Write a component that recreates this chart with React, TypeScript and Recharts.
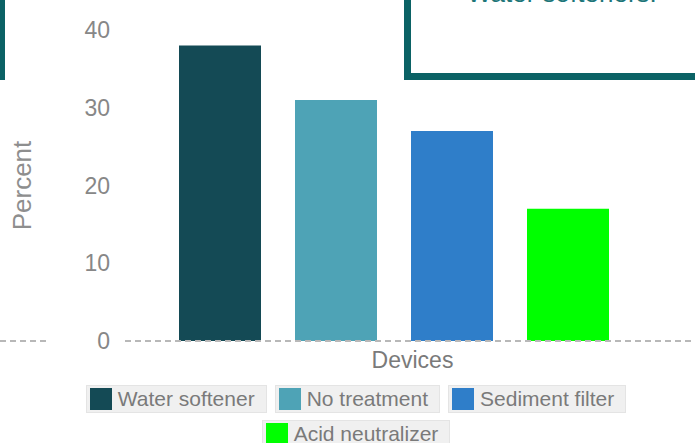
import React from 'react';
import { BarChart, Bar, XAxis, YAxis, Legend } from 'recharts';

const category = 'Devices';
const seriesKeys = ['waterSoftener', 'noTreatment', 'sedimentFilter', 'acidNeutralizer'];
const seriesNames = ['Water softener', 'No treatment', 'Sediment filter', 'Acid neutralizer'];
const seriesValues = [38, 31, 27, 17];
const seriesColors = ['#144a55', '#4ea3b6', '#2f7ec9', '#00ff00'];
const yTicks = [0, 10, 20, 30, 40];

const data = [
    seriesKeys.reduce<Record<string, string | number>>(
        (row, key, i) => {
            row[key] = seriesValues[i];
            return row;
        },
        { name: category }
    ),
];

const FONT = '"Liberation Sans", Arial, Helvetica, sans-serif';

// legend keeps the series order (recharts would sort it by name)
const LegendBoxes = () => (
    <div
        style={{
            marginLeft: 76,
            width: 560,
            display: 'flex',
            flexWrap: 'wrap',
            justifyContent: 'center',
            rowGap: 7,
            columnGap: 8,
            fontFamily: FONT,
        }}
    >
        {seriesNames.map((name, i) => (
            <div
                key={name}
                style={{
                    display: 'flex',
                    alignItems: 'center',
                    background: '#f0f0f0',
                    border: '1px solid #e4e4e4',
                    padding: '2px 11px 2px 3px',
                    height: 22,
                }}
            >
                <span style={{ width: 22, height: 22, background: seriesColors[i], marginRight: 6, display: 'inline-block' }} />
                <span style={{ fontSize: 21, lineHeight: '22px', color: '#7a7a7a' }}>{name}</span>
            </div>
        ))}
    </div>
);

const App: React.FC = () => {
    return (
        <div style={{ position: 'fixed', left: 0, top: 0, width: 695, height: 443, overflow: 'hidden', background: '#fff', fontFamily: FONT }}>
            <div style={{ position: 'absolute', left: 0, top: 0 }}>
                <BarChart
                    width={700}
                    height={450}
                    data={data}
                    margin={{ top: 30, right: 0, bottom: 2, left: 0 }}
                    barCategoryGap={0}
                    barGap={34}
                >
                    <XAxis
                        dataKey="name"
                        type="category"
                        tick={false}
                        tickLine={false}
                        height={44}
                        padding={{ left: 52, right: 90 }}
                        axisLine={{ stroke: '#b8b8b8', strokeWidth: 2, strokeDasharray: '6 4' }}
                        label={{ value: 'Devices', position: 'insideTop', offset: 11, fill: '#7a7a7a', fontSize: 23, fontFamily: FONT }}
                    />
                    <YAxis
                        width={125}
                        domain={[0, 40]}
                        ticks={yTicks}
                        axisLine={false}
                        tickLine={false}
                        tickMargin={9}
                        tick={{ fill: '#878787', fontSize: 23, fontFamily: FONT }}
                        label={{
                            value: 'Percent',
                            angle: -90,
                            position: 'insideLeft',
                            offset: 22,
                            fill: '#8e8e8e',
                            fontSize: 26,
                            fontFamily: FONT,
                            style: { textAnchor: 'middle' },
                        }}
                    />
                    <Legend verticalAlign="bottom" content={<LegendBoxes />} />
                    {seriesKeys.map((key, i) => (
                        <Bar
                            key={key}
                            dataKey={key}
                            name={seriesNames[i]}
                            fill={seriesColors[i]}
                            barSize={82}
                            isAnimationActive={false}
                        />
                    ))}
                </BarChart>
            </div>

            {/* pieces of neighbouring panels cut off by the screenshot */}
            <div style={{ position: 'absolute', left: 0, top: 0, width: 5, height: 80, background: '#0b6265' }} />
            <div
                style={{
                    position: 'absolute',
                    left: 404,
                    top: -60,
                    width: 400,
                    height: 126,
                    border: '7px solid #0b6265',
                    background: '#fff',
                }}
            />
            <div
                style={{
                    position: 'absolute',
                    left: 467,
                    top: -22.5,
                    fontSize: 26,
                    lineHeight: '30px',
                    color: '#1d7679',
                    whiteSpace: 'nowrap',
                }}
            >
                Water softeners.
            </div>
            <svg style={{ position: 'absolute', left: 0, top: 336 }} width={46} height={10}>
                <line x1={0} y1={5} x2={46} y2={5} stroke="#b8b8b8" strokeWidth={2} strokeDasharray="6 4" />
            </svg>
        </div>
    );
};

export default App;
